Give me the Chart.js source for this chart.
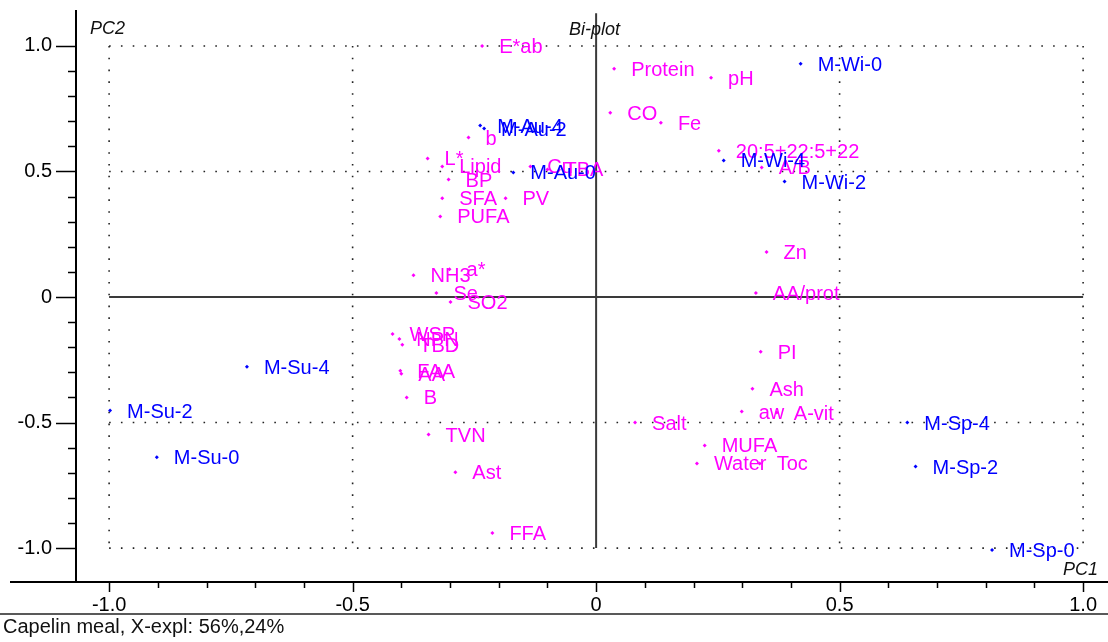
<!DOCTYPE html>
<html><head><meta charset="utf-8">
<script src="https://cdn.jsdelivr.net/npm/chart.js@4"></script>
<style>html,body{margin:0;padding:0;background:#fff;}#wrap{width:1108px;height:642px;position:relative;}canvas{display:block;}</style>
</head><body><div id="wrap"><canvas id="c" width="1108" height="642"></canvas></div>
<script>
const VAR_LABELS = ['E*ab','Protein','pH','CO','Fe','20:5+22:5+22','A/B','Zn','AA/prot','PI','Ash','aw','A-vit','Salt','MUFA','Water','Toc','b','L*','Lipid','BP','SFA','PV','PUFA','Cu','TBA','NH3','a*','Se','SO2','WSP','NPN','TBD','FAA','AA','B','TVN','Ast','FFA'];
const VAR_PC1 = [-0.234,0.037,0.236,0.029,0.133,0.252,0.340,0.350,0.328,0.338,0.321,0.299,0.371,0.080,0.223,0.207,0.336,-0.262,-0.346,-0.316,-0.303,-0.316,-0.186,-0.320,-0.135,-0.100,-0.375,-0.301,-0.328,-0.299,-0.418,-0.404,-0.398,-0.402,-0.400,-0.389,-0.344,-0.289,-0.213];
const VAR_PC2 = [1.000,0.909,0.873,0.734,0.694,0.583,0.516,0.179,0.016,-0.218,-0.365,-0.456,-0.460,-0.500,-0.591,-0.663,-0.663,0.635,0.552,0.520,0.468,0.393,0.393,0.321,0.520,0.508,0.087,0.111,0.016,-0.020,-0.147,-0.167,-0.190,-0.294,-0.306,-0.400,-0.548,-0.698,-0.940];

const SAMPLE_LABELS = ['M-Wi-0','M-Wi-4','M-Wi-2','M-Au-4','M-Au-2','M-Au-0','M-Su-4','M-Su-2','M-Su-0','M-Sp-4','M-Sp-2','M-Sp-0'];
const SAMPLE_PC1 = [0.420,0.262,0.387,-0.238,-0.230,-0.170,-0.717,-0.998,-0.902,0.639,0.656,0.813];
const SAMPLE_PC2 = [0.929,0.544,0.460,0.683,0.671,0.496,-0.278,-0.452,-0.638,-0.500,-0.675,-1.008];

const X_TICKS = [-1, -0.5, 0, 0.5, 1];
const X_TICK_LABELS = ['-1.0','-0.5','0','0.5','1.0'];
const Y_TICKS = [-1, -0.5, 0, 0.5, 1];
const Y_TICK_LABELS = ['-1.0','-0.5','0','0.5','1.0'];
const GRID_VALUES = [-1, -0.5, 0.5, 1];
const MINOR_STEP = 0.1;

const TITLE = 'Bi-plot';
const X_TITLE = 'PC1';
const Y_TITLE = 'PC2';
const CAPTION = 'Capelin meal, X-expl: 56%,24%';

const FONT = "'Liberation Sans', Arial, sans-serif";
const MAGENTA = '#FF00FF';
const BLUE = '#0000FF';

const biplot = {
  id: 'biplot',
  beforeDatasetsDraw(chart) {
    const {ctx} = chart; const xs = chart.scales.x, ys = chart.scales.y;
    ctx.save();
    // dotted grid rectangle lines
    ctx.strokeStyle = '#222'; ctx.lineWidth = 1.6; ctx.setLineDash([1.6, 10.2]);
    GRID_VALUES.forEach(v => {
      ctx.beginPath();
      ctx.moveTo(xs.getPixelForValue(-1), ys.getPixelForValue(v));
      ctx.lineTo(xs.getPixelForValue(1), ys.getPixelForValue(v));
      ctx.stroke();
      ctx.beginPath();
      ctx.moveTo(xs.getPixelForValue(v), ys.getPixelForValue(1));
      ctx.lineTo(xs.getPixelForValue(v), ys.getPixelForValue(-1));
      ctx.stroke();
    });
    ctx.setLineDash([]);
    // solid zero lines
    ctx.strokeStyle = '#3a3a3a'; ctx.lineWidth = 2;
    ctx.beginPath();
    ctx.moveTo(xs.getPixelForValue(-1), ys.getPixelForValue(0));
    ctx.lineTo(xs.getPixelForValue(1), ys.getPixelForValue(0));
    ctx.stroke();
    ctx.beginPath();
    ctx.moveTo(xs.getPixelForValue(0), ys.getPixelForValue(1.13));
    ctx.lineTo(xs.getPixelForValue(0), ys.getPixelForValue(-1));
    ctx.stroke();
    ctx.restore();
  },
  afterDatasetsDraw(chart) {
    const {ctx, chartArea} = chart; const xs = chart.scales.x, ys = chart.scales.y;
    ctx.save();
    ctx.font = '20px ' + FONT; ctx.textAlign = 'left'; ctx.textBaseline = 'alphabetic';
    const drawLabels = (labels, px, py, color) => {
      ctx.fillStyle = color;
      labels.forEach((t, i) => {
        const x = xs.getPixelForValue(px[i]), y = ys.getPixelForValue(py[i]);
        ctx.fillText(t, x + 17, y + 7);
      });
    };
    drawLabels(VAR_LABELS, VAR_PC1, VAR_PC2, MAGENTA);
    drawLabels(SAMPLE_LABELS, SAMPLE_PC1, SAMPLE_PC2, BLUE);

    // axes frame
    ctx.strokeStyle = '#000'; ctx.lineWidth = 2;
    const L = chartArea.left, B = chartArea.bottom;
    ctx.beginPath(); ctx.moveTo(L, 10); ctx.lineTo(L, B); ctx.stroke();
    ctx.beginPath(); ctx.moveTo(10, B); ctx.lineTo(chart.width, B); ctx.stroke();
    ctx.lineWidth = 1.6; ctx.strokeStyle = '#222';
    ctx.beginPath(); ctx.moveTo(0, B + 32); ctx.lineTo(chart.width, B + 32); ctx.stroke();
    // ticks
    ctx.strokeStyle = '#000'; ctx.lineWidth = 1.5;
    for (let k = -10; k <= 10; k++) {
      const v = k * MINOR_STEP;
      const major = (k % 5 === 0);
      const px = Math.round(xs.getPixelForValue(v)) + 0.5;
      ctx.beginPath(); ctx.moveTo(px, B); ctx.lineTo(px, B + (major ? 10 : 6)); ctx.stroke();
      const py = Math.round(ys.getPixelForValue(v)) + 0.5;
      ctx.beginPath(); ctx.moveTo(L, py); ctx.lineTo(L - (major ? 20 : 8), py); ctx.stroke();
    }
    // titles
    ctx.fillStyle = '#111';
    ctx.font = 'italic 18px ' + FONT;
    ctx.fillText(Y_TITLE, 90, 34);
    ctx.fillText(TITLE, 569, 35);
    ctx.fillText(X_TITLE, 1063, 575);
    ctx.font = '20px ' + FONT;
    ctx.fillText(CAPTION, 3, 633);
    ctx.restore();
  }
};

const noPad = s => { s.paddingTop = 0; s.paddingBottom = 0; s.paddingLeft = 0; s.paddingRight = 0; };

new Chart(document.getElementById('c').getContext('2d'), {
  type: 'scatter',
  data: { datasets: [
    { label: 'Variables', data: VAR_PC1.map((x, i) => ({x, y: VAR_PC2[i]})), backgroundColor: MAGENTA, borderColor: MAGENTA, pointStyle: 'rectRot', pointRadius: 2, borderWidth: 0, pointHoverRadius: 2 },
    { label: 'Samples', data: SAMPLE_PC1.map((x, i) => ({x, y: SAMPLE_PC2[i]})), backgroundColor: BLUE, borderColor: BLUE, pointStyle: 'rectRot', pointRadius: 2, borderWidth: 0, pointHoverRadius: 2 }
  ]},
  options: {
    responsive: false, animation: false, events: [],
    layout: { padding: { left: 0, right: 0, top: 0, bottom: 30 } },
    plugins: { legend: { display: false }, tooltip: { enabled: false } },
    scales: {
      x: {
        type: 'linear', min: -1.068, max: 1.047,
        grid: { display: false, drawTicks: false }, border: { display: false },
        afterBuildTicks: s => { s.ticks = X_TICKS.map(v => ({value: v})); },
        afterFit: s => { s.height = 30; noPad(s); },
        ticks: { autoSkip: false, maxRotation: 0, padding: 11, color: '#000', font: { family: FONT, size: 20 }, callback: (v, i) => X_TICK_LABELS[i] }
      },
      y: {
        type: 'linear', min: -1.135, max: 1.175,
        grid: { display: false, drawTicks: false }, border: { display: false },
        afterBuildTicks: s => { s.ticks = Y_TICKS.map(v => ({value: v})); },
        afterFit: s => { s.width = 76; noPad(s); },
        ticks: { autoSkip: false, padding: 24, color: '#000', font: { family: FONT, size: 20 }, callback: (v, i) => Y_TICK_LABELS[i] }
      }
    }
  },
  plugins: [biplot]
});
</script></body></html>
